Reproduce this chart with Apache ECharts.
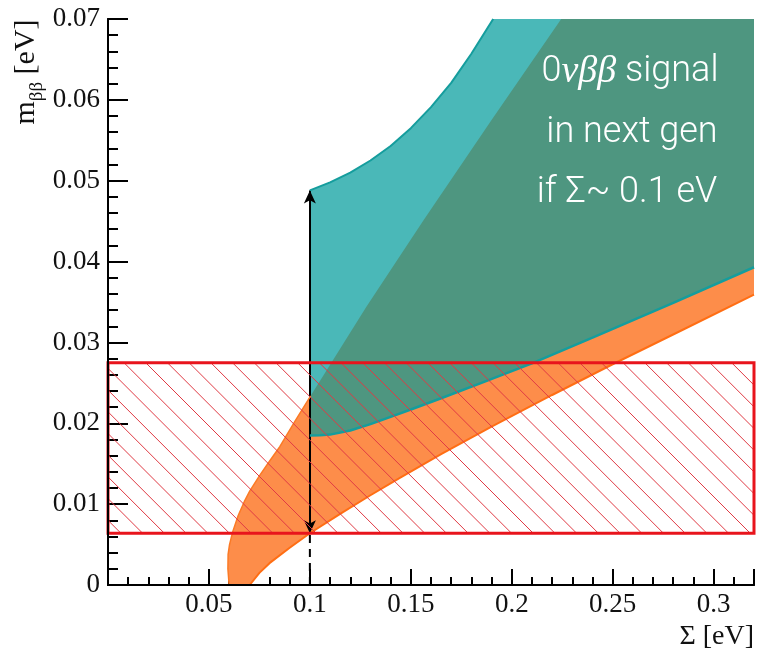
<!DOCTYPE html>
<html>
<head>
<meta charset="utf-8">
<script src="https://cdn.jsdelivr.net/npm/echarts@6/dist/echarts.min.js"></script>
<style>html,body{margin:0;padding:0;background:#fff}#c{width:759px;height:651px}</style>
</head>
<body>
<div id="c"></div>
<script>
// ---- data ----
const xRange = [0, 0.32];
const yRange = [0, 0.07];
const xTickInterval = 0.05;
const yTickInterval = 0.01;

// normal-ordering band (orange)
const orangeUpper = [[0.0600,0],[0.0594,0.0020],[0.0595,0.0038],[0.0602,0.0050],[0.0618,0.0066],[0.0645,0.0086],[0.0675,0.0103],[0.0702,0.0116],[0.0750,0.0135],[0.0800,0.0153],[0.0851,0.0171],[0.0925,0.0202],[0.1004,0.0234],[0.1280,0.0344],[0.1563,0.0451],[0.1900,0.0575],[0.2245,0.0700]];
const orangeLower = [[0.0702,0],[0.0750,0.0015],[0.0800,0.0027],[0.0900,0.0046],[0.1000,0.0064],[0.1150,0.0088],[0.1300,0.0111],[0.1450,0.0133],[0.1650,0.0162],[0.1900,0.0196],[0.2200,0.0235],[0.2500,0.0273],[0.2850,0.0316],[0.3200,0.0359]];
// inverted-ordering band (teal)
const tealUpper = [[0.1000,0.0488],[0.1100,0.0498],[0.1200,0.0510],[0.1300,0.0525],[0.1400,0.0543],[0.1500,0.0565],[0.1600,0.0591],[0.1700,0.0621],[0.1800,0.0657],[0.1908,0.0700]];
const tealLower = [[0.1000,0.0185],[0.1050,0.01852],[0.1100,0.0186],[0.1200,0.0191],[0.1300,0.0199],[0.1400,0.0208],[0.1500,0.0217],[0.1650,0.0231],[0.1850,0.0250],[0.2100,0.0274],[0.2400,0.0306],[0.2800,0.0349],[0.3200,0.0393]];
// hatched band (sensitivity)
const hatchBand = [0.0064, 0.0275];
// arrow at Sigma = 0.1 eV
const arrowX = 0.1;
const arrowRange = [0.0064, 0.0488];

const annotLines = ['0νββ signal', 'in next gen', 'if Σ~ 0.1 eV'];

// ---- polygons built from the arrays ----
const orangePoly = orangeLower.concat([[xRange[1], yRange[1]]], orangeUpper.slice().reverse());
const tealPoly = [[tealLower[0][0], tealLower[0][1]]].concat(tealUpper, [[xRange[1], yRange[1]]], tealLower.slice().reverse());
const upperAboveTeal = orangeUpper.filter(p => p[0] >= 0.1);
const greenPoly = tealLower.concat([[xRange[1], yRange[1]]], upperAboveTeal.slice().reverse(), [[arrowX, upperAboveTeal[0][1]]]);
const orangeEdge = orangeUpper.filter(p => p[0] <= 0.1004);

function polySeries(pts, color, z) {
  return {
    type: 'custom', clip: true, z: z, silent: true,
    data: [0],
    renderItem: function (params, api) {
      return { type: 'polygon', shape: { points: pts.map(p => api.coord(p)) }, style: { fill: color, stroke: null } };
    }
  };
}
function edgeSeries(pts, color, w, z) {
  return { type: 'line', data: pts, showSymbol: false, symbol: 'none', z: z, silent: true,
    lineStyle: { color: color, width: w }, clip: true };
}

const serif = 'Liberation Serif';
const labRich = { a: { fontFamily: serif, fontSize: 27, color: '#111' } };
const chart = echarts.init(document.getElementById('c'), null, { renderer: 'canvas' });
chart.setOption({
  animation: false,
  backgroundColor: '#fff',
  textStyle: { fontFamily: serif },
  grid: { left: 108, right: 5, top: 19, bottom: 66 },
  xAxis: [{
    type: 'value', min: xRange[0], max: xRange[1], interval: xTickInterval,
    axisLine: { lineStyle: { color: '#000', width: 2 } },
    axisTick: { inside: true, length: 16, lineStyle: { color: '#000', width: 2 } },
    minorTick: { show: true, splitNumber: 5, length: 8, lineStyle: { color: '#000', width: 2 } },
    splitLine: { show: false },
    axisLabel: { fontFamily: serif, fontSize: 27, color: '#111', margin: 6, rich: labRich,
      formatter: v => (v <= 0 || v > 0.305) ? '' : '{a|' + String(+v.toFixed(2)) + '}' }
  }, {
    type: 'value', position: 'top', min: xRange[0], max: xRange[1], z: 10,
    axisLine: { show: true, lineStyle: { color: '#000', width: 2 } },
    axisTick: { show: false }, axisLabel: { show: false }, splitLine: { show: false }
  }],
  yAxis: [{
    type: 'value', min: yRange[0], max: yRange[1], interval: yTickInterval,
    axisLine: { show: true, lineStyle: { color: '#000', width: 2 } },
    axisTick: { inside: true, length: 20, lineStyle: { color: '#000', width: 2 } },
    minorTick: { show: true, splitNumber: 5, length: 10, lineStyle: { color: '#000', width: 2 } },
    splitLine: { show: false },
    axisLabel: { fontFamily: serif, fontSize: 27, color: '#111', margin: 8, rich: labRich,
      formatter: v => '{a|' + (v === 0 ? '0' : v.toFixed(2)) + '}' }
  }, {
    type: 'value', position: 'right', min: yRange[0], max: yRange[1], z: 10,
    axisLine: { show: true, lineStyle: { color: '#000', width: 2 } },
    axisTick: { show: false }, axisLabel: { show: false }, splitLine: { show: false }
  }],
  graphic: [
    { type: 'text', x: 29, y: 72, rotation: Math.PI / 2, z: 100,
      style: { text: '{m|m}{s|ββ}{u| [eV]}', align: 'center', verticalAlign: 'middle',
        rich: { m: { fontFamily: serif, fontSize: 30, fill: '#111', lineHeight: 36, verticalAlign: 'top' },
                s: { fontFamily: serif, fontSize: 19, fill: '#111', lineHeight: 36, verticalAlign: 'bottom' },
                u: { fontFamily: serif, fontSize: 30, fill: '#111', lineHeight: 36, verticalAlign: 'top' } } } },
    { type: 'text', x: 754, y: 637, z: 100,
      style: { text: 'Σ [eV]', fontFamily: serif, fontSize: 28, fill: '#111', align: 'right', verticalAlign: 'middle' } },
    { type: 'text', x: 630, y: 72, z: 100,
      style: { text: '{n|0}{g|νββ}{t| signal}', align: 'center', verticalAlign: 'middle',
        rich: { n: { fontFamily: 'Roboto', fontWeight: 300, fontSize: 36, fill: '#fff' },
                g: { fontFamily: serif, fontStyle: 'italic', fontSize: 38, fill: '#fff' },
                t: { fontFamily: 'Roboto', fontWeight: 300, fontSize: 36, fill: '#fff' } } } },
    { type: 'text', x: 632, y: 133, z: 100,
      style: { text: annotLines[1], fontFamily: 'Roboto', fontWeight: 300, fontSize: 36, fill: '#fff', align: 'center', verticalAlign: 'middle' } },
    { type: 'text', x: 627, y: 193, z: 100,
      style: { text: annotLines[2], fontFamily: 'Roboto', fontWeight: 300, fontSize: 36, fill: '#fff', align: 'center', verticalAlign: 'middle' } }
  ],
  series: [
    polySeries(orangePoly, '#fd8d4a', 2),
    polySeries(tealPoly, '#4ab8b8', 3),
    polySeries(greenPoly, '#4e9680', 4),
    edgeSeries(orangeEdge, '#fb7a25', 1.5, 5),
    edgeSeries(orangeLower, '#ff6e14', 2, 5),
    edgeSeries(tealUpper, '#159d9d', 2, 5),
    edgeSeries(tealLower, '#159d9d', 2.5, 5),
    {
      type: 'custom', z: 6, silent: true,
      data: [[xRange[0], hatchBand[0], xRange[1], hatchBand[1]]],
      renderItem: function (params, api) {
        const p0 = api.coord([api.value(0), api.value(3)]);
        const p1 = api.coord([api.value(2), api.value(1)]);
        const x0 = p0[0], y0 = p0[1], x1 = p1[0], y1 = p1[1];
        const s = 21.7, children = [];
        for (let c = Math.floor((x0 - y1) / s) * s; c <= x1 - y0; c += s) {
          const xa = Math.max(x0, y0 + c), xb = Math.min(x1, y1 + c);
          if (xb > xa) children.push({ type: 'line', shape: { x1: xa, y1: xa - c, x2: xb, y2: xb - c },
            style: { stroke: '#e03a44', lineWidth: 1 } });
        }
        children.push({ type: 'rect', shape: { x: x0, y: y0, width: x1 - x0, height: y1 - y0 },
          style: { fill: null, stroke: '#e8141c', lineWidth: 3 } });
        return { type: 'group', children: children };
      }
    },
    {
      type: 'line', z: 7, silent: true, showSymbol: false, symbol: 'none',
      data: [[arrowX, 0], [arrowX, arrowRange[0]]],
      lineStyle: { color: '#000', width: 2, type: [8, 6] },
      markLine: {
        silent: true, symbol: ['arrow', 'arrow'], symbolSize: [9, 13], label: { show: false },
        lineStyle: { color: '#000', width: 2, type: 'solid' }, emphasis: { disabled: true },
        data: [[{ coord: [arrowX, arrowRange[0]] }, { coord: [arrowX, arrowRange[1]] }]]
      }
    }
  ]
});
</script>
</body>
</html>
